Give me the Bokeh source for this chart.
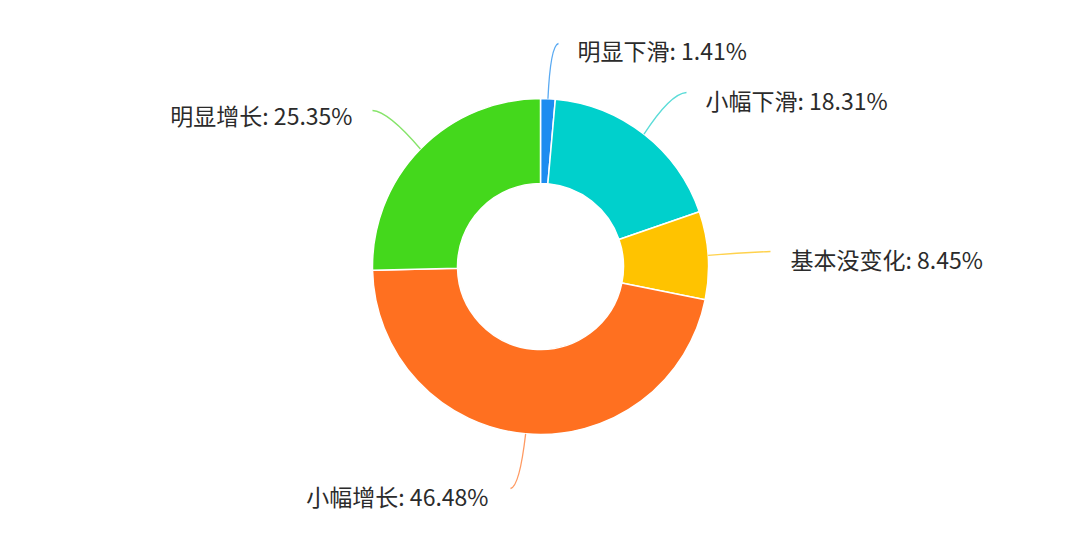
import math
from bokeh.plotting import figure
from bokeh.models import Range1d, ColumnDataSource
from bokeh.core.properties import value
from bokeh.embed import file_html
from bokeh.resources import INLINE

# ---- data ----
categories = ["明显下滑", "小幅下滑", "基本没变化", "小幅增长", "明显增长"]
percents = [1.41, 18.31, 8.45, 46.48, 25.35]
colors = ["#1d8cf0", "#00d0cc", "#ffc300", "#ff7020", "#44d81c"]
line_colors = ["#5aaaf2", "#5cdcd8", "#ffd24d", "#ff9a62", "#86e46a"]

# ---- layout (page pixel coordinates; data y = -pixel y) ----
W, H = 1064, 523
CX, CY = 540, 266
R_OUT, R_IN = 168, 83
# label anchor (text x, text y, align) and leader end / control points
label_pos = [(577, 49, "left"), (705, 99, "left"), (790, 258, "left"),
             (488, 495, "right"), (352, 114, "right")]
lead_end = [(558, 43), (686, 92), (770, 251), (510, 488), (372, 110)]
lead_ctrl = [(550, 45), (670, 93), (740, 252), (519, 486), (388, 111)]

p = figure(width=W, height=H, output_backend="svg", toolbar_location=None,
           x_range=Range1d(0, W), y_range=Range1d(-H, 0),
           x_axis_type=None, y_axis_type=None, min_border=0)
p.grid.visible = False
p.outline_line_color = None
p.background_fill_color = "white"
p.border_fill_color = "white"

total = sum(percents)
starts, ends, mids = [], [], []
cum = 0.0
for v in percents:
    a0 = math.pi / 2 - 2 * math.pi * cum / total
    cum += v
    a1 = math.pi / 2 - 2 * math.pi * cum / total
    starts.append(a0)
    ends.append(a1)
    mids.append((a0 + a1) / 2)

src = ColumnDataSource(dict(start=starts, end=ends, color=colors))
p.annular_wedge(x=CX, y=-CY, inner_radius=R_IN, outer_radius=R_OUT,
                start_angle="start", end_angle="end", direction="clock",
                fill_color="color", line_color="white", line_width=1.5,
                source=src)

x0s, y0s, x1s, y1s, cxs, cys = [], [], [], [], [], []
for m, e, c in zip(mids, lead_end, lead_ctrl):
    x0s.append(CX + R_OUT * math.cos(m))
    y0s.append(-CY + R_OUT * math.sin(m))
    x1s.append(e[0]); y1s.append(-e[1])
    cxs.append(c[0]); cys.append(-c[1])
p.quadratic(x0=x0s, y0=y0s, x1=x1s, y1=y1s, cx=cxs, cy=cys,
            line_color=line_colors, line_width=1.3)

for cat, v, (lx, ly, al) in zip(categories, percents, label_pos):
    p.text(x=[lx], y=[-ly], text=[f"{cat}: {v:.2f}%"], text_align=al,
           text_baseline="middle", text_font=value("Noto Sans CJK SC"),
           text_font_size="23px", text_color="#2b2b2b")

open("out.html", "w").write(file_html(p, INLINE))
